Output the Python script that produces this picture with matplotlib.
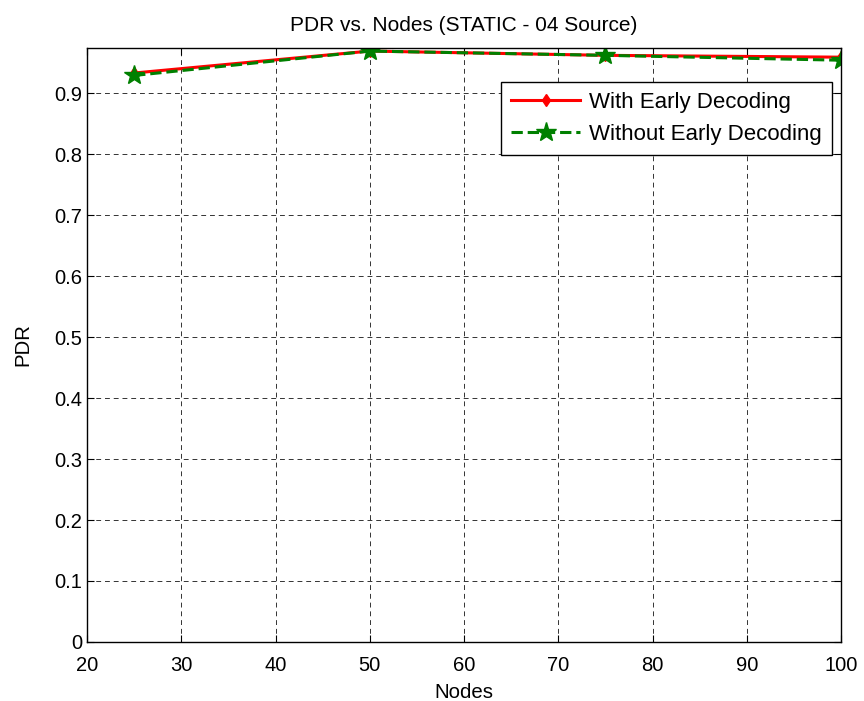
import matplotlib.pyplot as plt

plt.rcParams['font.family'] = ['Liberation Sans', 'DejaVu Sans']

nodes = [25, 50, 75, 100]
pdr_early = [0.933, 0.969, 0.962, 0.959]
pdr_no_early = [0.929, 0.969, 0.962, 0.954]

fig = plt.figure(figsize=(8.64, 7.01), dpi=100)
ax = fig.add_axes([0.1007, 0.0842, 0.8727, 0.8473])

ax.plot(nodes, pdr_early, '-', color='red', linewidth=2.2, marker='d',
        markersize=6, label='With Early Decoding')
ax.plot(nodes, pdr_no_early, '--', color='green', linewidth=2.2, marker='*',
        markersize=15, label='Without Early Decoding')

ax.set_xlim(20, 100)
ax.set_ylim(0, 0.974)
ax.set_xticks(range(20, 101, 10))
ax.set_yticks([i / 10 for i in range(10)])
ax.set_yticklabels(['0'] + ['%.1f' % (i / 10) for i in range(1, 10)])
ax.tick_params(direction='in', length=5, labelsize=14.5, top=True, right=True)
ax.tick_params(axis='x', pad=10)
ax.grid(which='major', linestyle=(0, (5, 4)), color='#333333', linewidth=0.7)
for s in ax.spines.values():
    s.set_linewidth(1.0)

ax.set_title('PDR vs. Nodes (STATIC - 04 Source)', fontsize=15, pad=12)
ax.set_xlabel('Nodes', fontsize=14.7, labelpad=6)
ax.set_ylabel('PDR', fontsize=14.7, labelpad=16)

leg = ax.legend(loc='upper right', bbox_to_anchor=(0.988, 0.943), fontsize=16,
                fancybox=False, framealpha=1, edgecolor='black',
                handlelength=3.1, handletextpad=0.4, borderpad=0.45,
                labelspacing=0.5, borderaxespad=0)
leg.get_frame().set_linewidth(1.0)

fig.savefig('out.png', dpi=100)
